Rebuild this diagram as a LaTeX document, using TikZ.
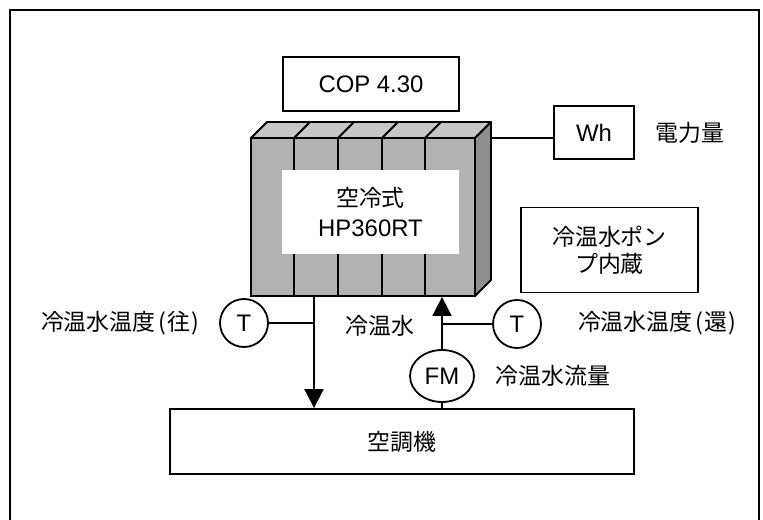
\documentclass[tikz,border=0pt]{standalone}
\usepackage{fontspec}
\setmainfont{Liberation Sans}
\newfontfamily\jp{Noto Sans CJK JP}
\usetikzlibrary{arrows.meta,shapes.geometric}
\definecolor{unitfront}{HTML}{B2B2B2}
\definecolor{unittop}{HTML}{C6C6C6}
\definecolor{unitside}{HTML}{8E8E8E}
% half-width parenthesis with a little air around it
\newcommand{\po}{\kern3bp(\kern1bp}
\newcommand{\pc}{\kern1bp)}
\begin{document}
\begin{tikzpicture}[x=1bp,y=-1bp,
  every node/.style={font=\fontsize{24}{27}\selectfont, inner sep=0pt},
  box/.style={draw, line width=1.8bp, fill=white},
  pipe/.style={line width=1.8bp},
  flow/.style={pipe, -{Triangle[length=19bp,width=19bp]}},
  gauge/.style={draw, circle, line width=1.8bp, minimum size=48bp},
  lbl/.style={font=\jp\fontsize{23}{27}\selectfont},
]
\useasboundingbox (0,0) rectangle (763,520);
% outer frame (open at the bottom)
\draw[line width=2bp] (10,520) -- (10,10) -- (759,10) -- (759,520);

% heat pump unit: top and side faces, then the front face
\draw[line width=1.8bp, fill=unittop, line join=round] (251,138) -- (267,122) -- (491,122) -- (475,138) -- cycle;
\draw[line width=1.8bp, fill=unitside, line join=round] (475,138) -- (491,122) -- (491,280) -- (475,296) -- cycle;
\node[draw, fill=unitfront, line width=1.8bp, minimum width=224bp, minimum height=158bp] (unit) at (363,217) {};
\foreach \x in {294,338,382,425}
  \draw[line width=1.8bp] (\x,296) -- (\x,138) -- ++(16,-16);
\node[fill=white, minimum width=177bp, minimum height=84bp, align=center,
      font=\fontsize{24}{31}\selectfont] (unitlbl) at (370.5,212) {{\jp\fontsize{23}{31}\selectfont 空冷式}\\HP360RT};

% meters and boxes
\node[box, minimum width=176bp, minimum height=54bp] (cop) at (371,84) {COP 4.30};
\node[box, minimum width=80bp, minimum height=53bp] (wh) at (594,132.5) {Wh};
\node[lbl] (whlbl) at (690,133) {電力量};
\node[box, minimum width=177bp, minimum height=85bp, align=center, lbl] (pump) at (609.5,250) {冷温水ポン\\プ内蔵};
\node[box, minimum width=464bp, minimum height=65bp, lbl] (ahu) at (402,441.5) {空調機};

\node[gauge] (t1) at (244,323) {T};
\node[gauge] (t2) at (517,324) {T};
\node[draw, ellipse, line width=1.8bp, minimum width=64bp, minimum height=52bp] (fm) at (442,376) {FM};

\node[lbl] (t1lbl) at (120,323) {冷温水温度\po 往\pc};
\node[lbl] (t2lbl) at (657,323) {冷温水温度\po 還\pc};
\node[lbl] (waterlbl) at (380,326) {冷温水};
\node[lbl] (fmlbl) at (553,376) {冷温水流量};

% power line
\coordinate (whjoin) at (491,138);
\draw[pipe] (whjoin) -- (whjoin -| wh.west);

% supply pipe
\coordinate (supx) at (314,0);
\draw[flow] (unit.south -| supx) -- (ahu.north -| supx);
\draw[pipe] (t1.east) -- (t1.east -| supx);

% return pipe
\draw[flow] (fm.north) -- (fm.north |- unit.south);
\draw[pipe] (fm.south) -- (fm.south |- ahu.north);
\draw[pipe] (t2.west) -- (t2.west -| fm.north);
\end{tikzpicture}
\end{document}
